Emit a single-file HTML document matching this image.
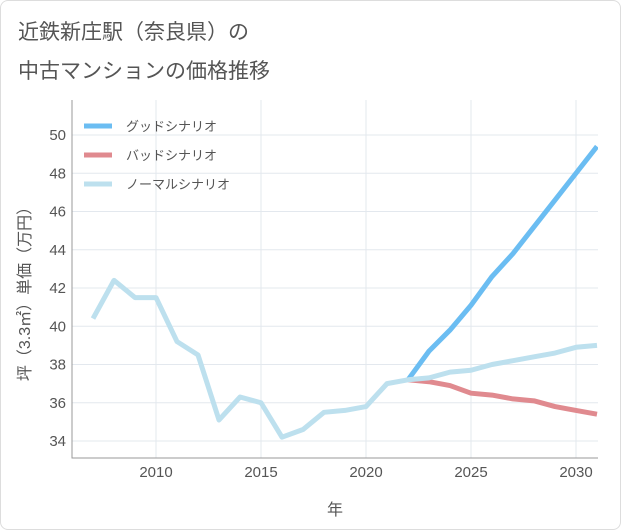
<!DOCTYPE html>
<html><head><meta charset="utf-8">
<style>
body{margin:0;background:#fff;}
#wrap{position:relative;width:621px;height:530px;font-family:"Liberation Sans","Noto Sans CJK JP",sans-serif;}
.card{position:absolute;left:0;top:0;width:619px;height:528px;border:1px solid #ddd;border-radius:8px;background:#fff;}
.title{position:absolute;left:18px;font-size:21px;color:#555;}
</style></head><body>
<div id="wrap">
<div class="card"></div>
<div class="title" style="top:16px">近鉄新庄駅（奈良県）の</div>
<div class="title" style="top:55px">中古マンションの価格推移</div>
<svg id="chart" width="621" height="530" style="position:absolute;left:0;top:0"></svg>
</div>
<script>
const years=[2007,2008,2009,2010,2011,2012,2013,2014,2015,2016,2017,2018,2019,2020,2021,2022,2023,2024,2025,2026,2027,2028,2029,2030,2031];
const normalVals=[40.4,42.4,41.5,41.5,39.2,38.5,35.1,36.3,36.0,34.2,34.6,35.5,35.6,35.8,37.0,37.2,37.3,37.6,37.7,38.0,38.2,38.4,38.6,38.9,39.0];
const fcYears=[2022,2023,2024,2025,2026,2027,2028,2029,2030,2031];
const goodVals=[37.2,38.7,39.8,41.1,42.6,43.8,45.2,46.6,48.0,49.4];
const badVals=[37.2,37.1,36.9,36.5,36.4,36.2,36.1,35.8,35.6,35.4];
const xTicks=[2010,2015,2020,2025,2030];
const yTicks=[34,36,38,40,42,44,46,48,50];
const legendLabels=["グッドシナリオ","バッドシナリオ","ノーマルシナリオ"];
const colors=["#6bbdf2","#e08a8f","#bde0ee"];

const L=72,R=598,T=100,B=458;
const x=v=>156+(v-2010)*21;
const y=v=>135+(50-v)*19.125;
const svg=document.getElementById('chart');
const NS='http://www.w3.org/2000/svg';
function mk(t,a){const e=document.createElementNS(NS,t);for(const k in a)e.setAttribute(k,a[k]);svg.appendChild(e);return e;}
const defs=mk('defs',{});
const cp=document.createElementNS(NS,'clipPath');cp.setAttribute('id','clip');
const cr=document.createElementNS(NS,'rect');cr.setAttribute('x',L);cr.setAttribute('y',T);cr.setAttribute('width',R-L);cr.setAttribute('height',B-T);
cp.appendChild(cr);defs.appendChild(cp);

xTicks.forEach(v=>{const l=mk('line',{x1:x(v),x2:x(v),y1:T,y2:B,stroke:'#e3e8ee'});

const t=mk('text',{x:x(v),y:477,'text-anchor':'middle','font-size':15,fill:'#555'});t.textContent=v;
});
yTicks.forEach(v=>{const l=mk('line',{x1:L,x2:R,y1:y(v),y2:y(v),stroke:'#e3e8ee'});

const t=mk('text',{x:66,y:y(v)+5,'text-anchor':'end','font-size':15,fill:'#555'});t.textContent=v;
});
const ax=mk('path',{d:`M${L} ${T}V${B}H${R}`,fill:'none',stroke:'#999'});


function line(xs,vs,c,name){const p=mk('polyline',{points:xs.map((yr,i)=>x(yr)+','+y(vs[i])).join(' '),fill:'none',stroke:c,'stroke-width':5,'stroke-linejoin':'round','clip-path':'url(#clip)'});
}
line(fcYears,goodVals,colors[0],'good-scenario-line');
line(fcYears,badVals,colors[1],'bad-scenario-line');
line(years,normalVals,colors[2],'normal-scenario-line');

legendLabels.forEach((s,i)=>{const yy=126+i*29;
const l=mk('line',{x1:84,x2:112,y1:yy,y2:yy,stroke:colors[i],'stroke-width':5});

const t=mk('text',{x:126,y:yy+5,'font-size':13,fill:'#555'});t.textContent=s;
});

const xt=mk('text',{x:335,y:515,'text-anchor':'middle','font-size':16,fill:'#555'});xt.textContent='年';

const yt=mk('text',{x:0,y:0,'text-anchor':'middle','font-size':16,fill:'#555',transform:'translate(30,290) rotate(-90)'});yt.textContent='坪（3.3㎡）単価（万円）';

</script>
</body></html>
